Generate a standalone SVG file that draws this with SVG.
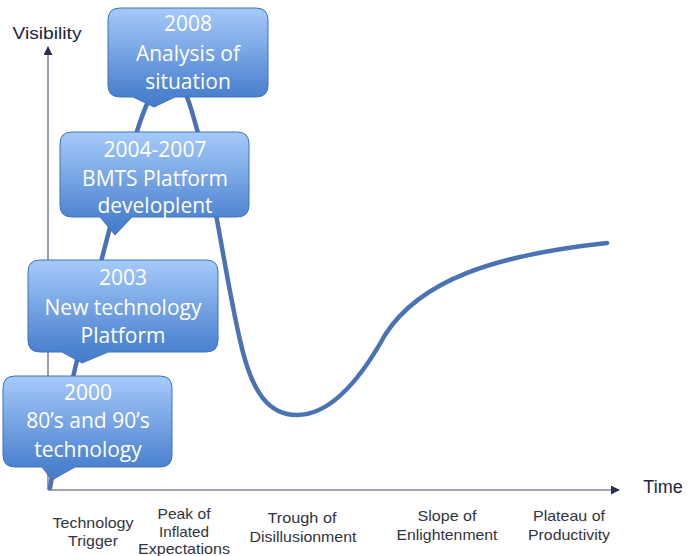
<svg xmlns="http://www.w3.org/2000/svg" width="688" height="556" viewBox="0 0 688 556">
<defs>
<linearGradient id="g" x1="0" y1="0" x2="0" y2="1">
<stop offset="0" stop-color="#a6cafa"/>
<stop offset="0.85" stop-color="#4d83d0"/>
<stop offset="1" stop-color="#477cc8"/>
</linearGradient>
<marker id="ah" viewBox="0 0 10 10" refX="9" refY="5" markerWidth="9" markerHeight="9" markerUnits="userSpaceOnUse" orient="auto">
<path d="M0,0 L10,5 L0,10 Z" fill="#2b2f4f"/>
</marker>
<style>
.ax{stroke:#84869e;stroke-width:1.6;fill:none}
.cv{stroke:#4b73b3;stroke-width:4.5;fill:none;stroke-linecap:round}
.box{fill:url(#g);stroke:#3f72bd;stroke-width:1}
.bt{font-family:"Open Sans","Liberation Sans",sans-serif;font-size:21px;fill:#ffffff;text-anchor:middle}
.lb{font-family:"Liberation Sans",Arial,sans-serif;font-size:14.5px;fill:#333340;text-anchor:middle}
.at{font-family:"Liberation Sans",Arial,sans-serif;fill:#23233f}
</style>
</defs>
<rect width="688" height="556" fill="#ffffff"/>
<g id="axes">
<line class="ax" x1="48" y1="490" x2="48" y2="47" marker-end="url(#ah)"/>
<line class="ax" x1="48" y1="490" x2="619" y2="490" marker-end="url(#ah)"/>
<text class="at" x="47" y="39" font-size="16" text-anchor="middle" textLength="69" lengthAdjust="spacingAndGlyphs">Visibility</text>
<text class="at" x="663" y="493" font-size="18" text-anchor="middle">Time</text>
</g>
<g id="connectors">
<path class="cv" d="M50,488 C62,420 90,300 120,190 C135,135 150,80 168,78 C185,76 192,110 205,160 C215,200 228,290 240,340 C252,395 270,415 297,415 C330,415 360,380 385,335 C420,280 495,255 607,243"/>
</g>
<g id="labels">
<text class="lb" x="93" y="528" textLength="81" lengthAdjust="spacingAndGlyphs">Technology</text>
<text class="lb" x="93" y="546" textLength="50" lengthAdjust="spacingAndGlyphs">Trigger</text>
<text class="lb" x="184" y="519" textLength="53" lengthAdjust="spacingAndGlyphs">Peak of</text>
<text class="lb" x="184" y="537" textLength="50" lengthAdjust="spacingAndGlyphs">Inflated</text>
<text class="lb" x="184" y="554" textLength="92" lengthAdjust="spacingAndGlyphs">Expectations</text>
<text class="lb" x="302" y="523" textLength="69" lengthAdjust="spacingAndGlyphs">Trough of</text>
<text class="lb" x="303" y="542" textLength="107" lengthAdjust="spacingAndGlyphs">Disillusionment</text>
<text class="lb" x="447" y="521" textLength="59" lengthAdjust="spacingAndGlyphs">Slope of</text>
<text class="lb" x="447" y="540" textLength="101" lengthAdjust="spacingAndGlyphs">Enlightenment</text>
<text class="lb" x="569" y="521" textLength="72" lengthAdjust="spacingAndGlyphs">Plateau of</text>
<text class="lb" x="569" y="540" textLength="82" lengthAdjust="spacingAndGlyphs">Productivity</text>
</g>
<g id="n2008">
<path class="box" d="M120,8 H256 Q268,8 268,20 V85 Q268,97 256,97 H175 L154,107 L133,97 H120 Q108,97 108,85 V20 Q108,8 120,8 Z"/>
<text class="bt" x="188" y="31">2008</text>
<text class="bt" x="188" y="61">Analysis of</text>
<text class="bt" x="188" y="89">situation</text>
</g>
<g id="n2004">
<path class="box" d="M72,132 H237 Q249,132 249,144 V205 Q249,217 237,217 H132 L115,235 L100,217 H72 Q60,217 60,205 V144 Q60,132 72,132 Z"/>
<text class="bt" x="155" y="157">2004-2007</text>
<text class="bt" x="155" y="186">BMTS Platform</text>
<text class="bt" x="155" y="213">developlent</text>
</g>
<g id="n2003">
<path class="box" d="M40,260 H206 Q218,260 218,272 V340 Q218,352 206,352 H108 L82,363 L62,352 H40 Q28,352 28,340 V272 Q28,260 40,260 Z"/>
<text class="bt" x="123" y="285">2003</text>
<text class="bt" x="123" y="315">New technology</text>
<text class="bt" x="123" y="343">Platform</text>
</g>
<g id="n2000">
<path class="box" d="M15,376 H160 Q172,376 172,388 V455 Q172,467 160,467 H75 L52,480 L42,467 H15 Q3,467 3,455 V388 Q3,376 15,376 Z"/>
<text class="bt" x="88" y="400">2000</text>
<text class="bt" x="88" y="428">80’s and 90’s</text>
<text class="bt" x="88" y="457">technology</text>
</g>
</svg>
